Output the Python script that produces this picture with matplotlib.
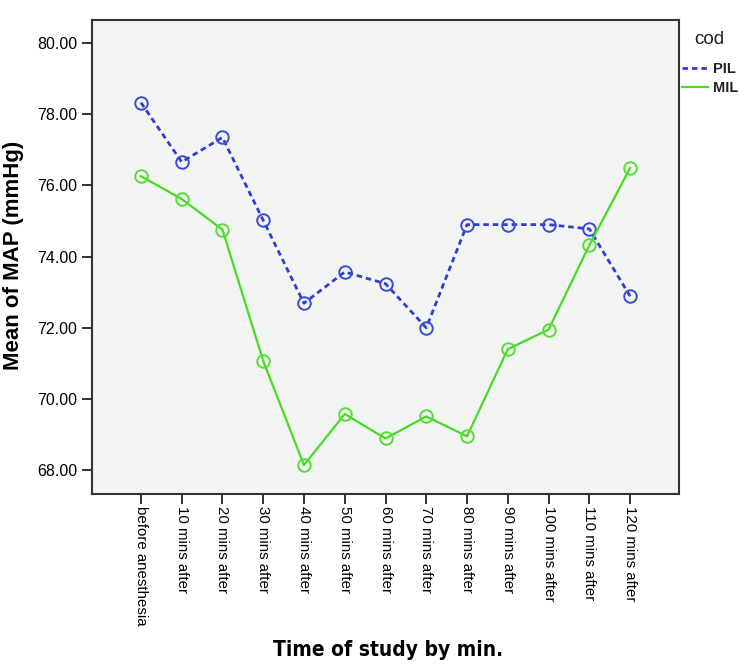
import matplotlib
matplotlib.use("Agg")
import matplotlib.pyplot as plt

categories = ["before anesthesia", "10 mins after", "20 mins after", "30 mins after",
              "40 mins after", "50 mins after", "60 mins after", "70 mins after",
              "80 mins after", "90 mins after", "100 mins after", "110 mins after",
              "120 mins after"]
pil = [78.33, 76.66, 77.35, 75.02, 72.69, 73.57, 73.24, 72.00, 74.90, 74.90, 74.90, 74.78, 72.89]
mil = [76.26, 75.62, 74.76, 71.07, 68.14, 69.58, 68.89, 69.51, 68.95, 71.40, 71.95, 74.32, 76.49]
yticks = [68, 70, 72, 74, 76, 78, 80]

plt.rcParams['font.family'] = ['Liberation Sans', 'DejaVu Sans']

fig = plt.figure(figsize=(7.5, 6.71), dpi=100)
ax = fig.add_axes([92/750, 1-494/671, (679-92)/750, (494-20)/671])
ax.set_facecolor('#f3f5f5')

x = list(range(len(categories)))
ax.plot(x, pil, color='#2f3fcf', linestyle=(0, (2, 1.4)), linewidth=2.0,
        marker='o', markersize=9, markerfacecolor='none', markeredgecolor='#3a4ad8',
        markeredgewidth=1.4, label='PIL')
ax.plot(x, mil, color='#44dd22', linestyle='-', linewidth=1.6,
        marker='o', markersize=9, markerfacecolor='none', markeredgecolor='#55dd33',
        markeredgewidth=1.4, label='MIL')

ax.set_xlim(-1.2, len(categories) - 1 + 1.2)
ax.set_ylim(67.33, 80.65)
ax.set_yticks(yticks)
ax.set_yticklabels([f"{v:.2f}" for v in yticks], fontsize=11.5)
ax.set_xticks(x)
ax.set_xticklabels(categories, rotation=270, fontsize=10.8, va='top', ha='center')
ax.tick_params(axis='both', direction='out', length=7, width=1.3, color='#222222')
ax.tick_params(axis='x', pad=2)
for s in ax.spines.values():
    s.set_color('#333333')
    s.set_linewidth(1.5)

fig.text(14/750, 1-255/671, "Mean of MAP (mmHg)", rotation=90, fontsize=16,
         fontweight='bold', ha='center', va='center')
fig.text(388/750, 1-650/671, "Time of study by min.", fontsize=15,
         fontweight='bold', ha='center', va='center', family=['DejaVu Sans'],
         fontstretch='condensed')

fig.text(709/750, 1-40/671, "cod", fontsize=13.5, ha='center', va='center',
         color='#222222')
leg = ax.legend(loc='upper left', bbox_to_anchor=(682/750, 1-62/671),
                bbox_transform=fig.transFigure,
                frameon=False, handlelength=1.8, handletextpad=0.3,
                borderaxespad=0.0, borderpad=0.0, fontsize=10.5,
                labelspacing=0.35)
for h in leg.get_lines():
    h.set_marker('')
for t in leg.get_texts():
    t.set_fontweight('semibold')
    t.set_color('#222222')

fig.savefig("out.png", dpi=100, facecolor='white')
